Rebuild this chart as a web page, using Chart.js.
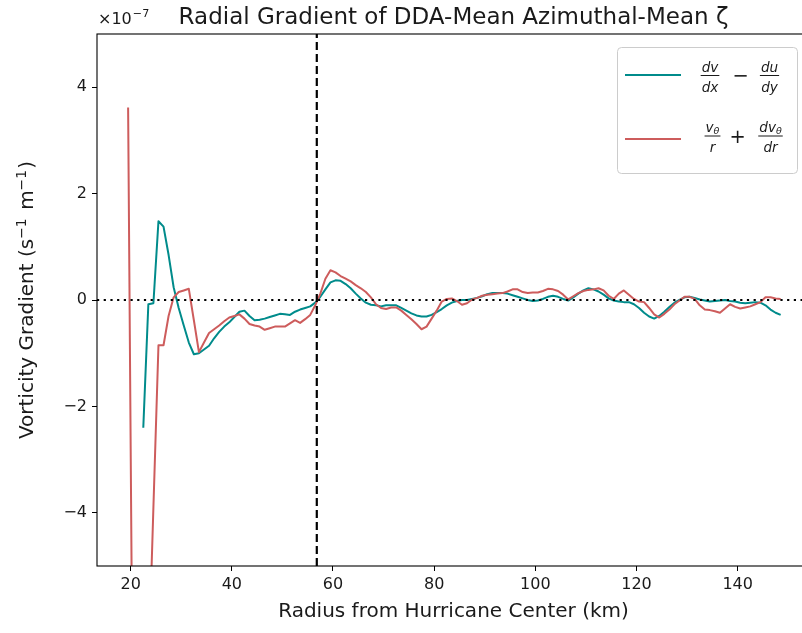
<!DOCTYPE html>
<html lang="en">
<head>
  <meta charset="UTF-8" />
  <title>Radial Gradient of DDA-Mean Azimuthal-Mean ζ</title>
  <script src="https://cdn.jsdelivr.net/npm/chart.js"></script>
  <style>
    html, body { margin: 0; padding: 0; background: #fff; overflow: hidden; }
    #wrap { width: 802px; height: 633px; overflow: hidden; position: relative; }
    canvas { display: block; }
  </style>
</head>
<body>
  <div id="wrap"><canvas id="chart" width="812" height="633"></canvas></div>

  <script>
    // radius from hurricane center (km)
    const radius = [
      19.5, 20.5, 21.5, 22.5, 23.5, 24.5, 25.5, 26.5, 27.5, 28.5,
      29.5, 30.5, 31.5, 32.5, 33.5, 34.5, 35.5, 36.5, 37.5, 38.5,
      39.5, 40.5, 41.5, 42.5, 43.5, 44.5, 45.5, 46.5, 47.5, 48.5,
      49.5, 50.5, 51.5, 52.5, 53.5, 54.5, 55.5, 56.5, 57.5, 58.5,
      59.5, 60.5, 61.5, 62.5, 63.5, 64.5, 65.5, 66.5, 67.5, 68.5,
      69.5, 70.5, 71.5, 72.5, 73.5, 74.5, 75.5, 76.5, 77.5, 78.5,
      79.5, 80.5, 81.5, 82.5, 83.5, 84.5, 85.5, 86.5, 87.5, 88.5,
      89.5, 90.5, 91.5, 92.5, 93.5, 94.5, 95.5, 96.5, 97.5, 98.5,
      99.5, 100.5, 101.5, 102.5, 103.5, 104.5, 105.5, 106.5, 107.5, 108.5,
      109.5, 110.5, 111.5, 112.5, 113.5, 114.5, 115.5, 116.5, 117.5, 118.5,
      119.5, 120.5, 121.5, 122.5, 123.5, 124.5, 125.5, 126.5, 127.5, 128.5,
      129.5, 130.5, 131.5, 132.5, 133.5, 134.5, 135.5, 136.5, 137.5, 138.5,
      139.5, 140.5, 141.5, 142.5, 143.5, 144.5, 145.5, 146.5, 147.5, 148.5
    ];

    // dv/dx - du/dy  (x1e-7 s^-1 m^-1)
    const cartesian = [
      null, null, null, -2.4, -0.08, -0.06, 1.48, 1.38, 0.85, 0.24,
      -0.15, -0.48, -0.8, -1.02, -1.0, -0.93, -0.86, -0.72, -0.6, -0.5,
      -0.42, -0.32, -0.22, -0.2, -0.3, -0.38, -0.37, -0.35, -0.32, -0.29,
      -0.26, -0.27, -0.28, -0.22, -0.18, -0.15, -0.12, -0.05, 0.06, 0.2,
      0.33, 0.37, 0.36, 0.3, 0.22, 0.12, 0.03, -0.05, -0.09, -0.1,
      -0.12, -0.1, -0.1, -0.1, -0.15, -0.2, -0.25, -0.29, -0.31, -0.31,
      -0.28, -0.23, -0.17, -0.1, -0.05, -0.02, 0.0, 0.0, 0.02, 0.04,
      0.07, 0.11, 0.13, 0.13, 0.13, 0.12, 0.09, 0.06, 0.03, 0.0,
      -0.02, -0.01, 0.02, 0.06, 0.08, 0.06, 0.02, -0.01, 0.05, 0.12,
      0.18, 0.22, 0.2, 0.16, 0.1, 0.03, -0.01, -0.03, -0.04, -0.04,
      -0.08, -0.15, -0.24, -0.31, -0.35, -0.3, -0.22, -0.13, -0.05, 0.0,
      0.05, 0.06, 0.04, 0.01, -0.01, -0.03, -0.02, -0.01, 0.0, -0.02,
      -0.03, -0.05, -0.06, -0.05, -0.04, -0.05, -0.1, -0.18, -0.24, -0.28
    ];

    // v_theta/r + dv_theta/dr  (x1e-7 s^-1 m^-1)
    const polar = [
      3.62, -9, -12, -10, -7, -3.9, -0.85, -0.85, -0.3, 0.05,
      0.15, 0.18, 0.21, -0.38, -0.98, -0.8, -0.62, -0.55, -0.48, -0.4,
      -0.33, -0.3, -0.27, -0.35, -0.45, -0.48, -0.5, -0.56, -0.53, -0.5,
      -0.5, -0.5, -0.44, -0.38, -0.43, -0.36, -0.28, -0.1, 0.12, 0.4,
      0.56, 0.52, 0.45, 0.4, 0.35, 0.28, 0.22, 0.15, 0.05, -0.08,
      -0.15, -0.17, -0.14, -0.14, -0.2, -0.28, -0.36, -0.45, -0.55, -0.5,
      -0.35, -0.2, -0.03, 0.02, 0.03, -0.02, -0.09, -0.06, 0.01, 0.04,
      0.08, 0.1, 0.11, 0.12, 0.13, 0.16, 0.2, 0.2, 0.15, 0.13,
      0.14, 0.14, 0.17, 0.21, 0.2, 0.17, 0.1, 0.01, 0.07, 0.13,
      0.17, 0.19, 0.2, 0.22, 0.18, 0.08, 0.02, 0.12, 0.18, 0.1,
      0.02, -0.03, -0.04, -0.15, -0.27, -0.33, -0.26, -0.18, -0.08, -0.01,
      0.06, 0.06, 0.02, -0.1, -0.18, -0.19, -0.21, -0.24, -0.16, -0.08,
      -0.13, -0.16, -0.14, -0.12, -0.08, -0.04, 0.05, 0.05, 0.03, 0.02
    ];

    const rmw = 56.8; // dashed vertical line
    const xTicks = [20, 40, 60, 80, 100, 120, 140];
    const yTicks = [-4, -2, 0, 2, 4];
    const xMin = 13.35, xMax = 154.3;
    const yMin = -5, yMax = 5;

    const TEAL = '#008b8b';
    const RED = '#cd5c5c';
    const INK = '#1a1a1a';
    const FONT = '"DejaVu Sans", sans-serif';
    const TICK_PX = 16;
    const LABEL_PX = 20;

    const toPoints = (ys) => radius.map((r, i) => ({ x: r, y: ys[i] }));

    // draws pieces of text (with optional size / raise) centred on cx
    function drawRun(ctx, parts, cx, baseline, style) {
      let w = 0;
      parts.forEach(p => {
        ctx.font = `${style} ${p.s}px ${FONT}`;
        p.w = ctx.measureText(p.t).width + (p.gap || 0);
        w += p.w;
      });
      let x = cx - w / 2;
      parts.forEach(p => {
        ctx.font = `${style} ${p.s}px ${FONT}`;
        ctx.fillText(p.t, x, baseline + (p.dy || 0));
        x += p.w;
      });
      return w;
    }

    function drawFrac(ctx, cx, barY, num, den) {
      const w1 = drawRun(ctx, num, cx, barY - 4, 'italic');
      const w2 = drawRun(ctx, den, cx, barY + 16, 'italic');
      const w = Math.max(w1, w2);
      ctx.fillRect(cx - w / 2 - 1, barY - 0.5, w + 2, 1);
    }

    const N = 13.6, S = 9.5;

    const decor = {
      id: 'decor',
      afterDraw(chart) {
        const { ctx, chartArea: a } = chart;
        ctx.save();
        // axes frame
        ctx.strokeStyle = '#000';
        ctx.lineWidth = 1.1;
        ctx.strokeRect(a.left, a.top, a.right - a.left, a.bottom - a.top);

        ctx.fillStyle = INK;
        ctx.textBaseline = 'alphabetic';
        ctx.textAlign = 'left';

        // title
        drawRun(ctx, [{ t: 'Radial Gradient of DDA-Mean Azimuthal-Mean ζ', s: 23 }],
          (a.left + a.right) / 2, 24, 'normal');

        // offset text
        ctx.font = `${TICK_PX}px ${FONT}`;
        ctx.fillText('×10', 98, 24);
        const w = ctx.measureText('×10').width;
        ctx.font = `${TICK_PX * 0.7}px ${FONT}`;
        ctx.fillText('−7', 98 + w + 1, 17);

        // y axis label with superscripts
        ctx.save();
        ctx.translate(33, (a.top + a.bottom) / 2);
        ctx.rotate(-Math.PI / 2);
        const L = LABEL_PX, U = LABEL_PX * 0.7, R = -7.5;
        drawRun(ctx, [
          { t: 'Vorticity Gradient (s', s: L },
          { t: '−1', s: U, dy: R, gap: 2 },
          { t: ' m', s: L },
          { t: '−1', s: U, dy: R, gap: 1 },
          { t: ')', s: L }
        ], 0, 0, 'normal');
        ctx.restore();

        // legend
        ctx.beginPath();
        ctx.roundRect(617.5, 47.5, 180, 126, 4);
        ctx.fillStyle = 'rgba(255,255,255,0.8)';
        ctx.fill();
        ctx.strokeStyle = '#cccccc';
        ctx.lineWidth = 1;
        ctx.stroke();

        ctx.lineWidth = 2;
        ctx.strokeStyle = TEAL;
        ctx.beginPath(); ctx.moveTo(625, 75); ctx.lineTo(681, 75); ctx.stroke();
        ctx.strokeStyle = RED;
        ctx.beginPath(); ctx.moveTo(625, 139); ctx.lineTo(681, 139); ctx.stroke();

        ctx.fillStyle = INK;
        drawFrac(ctx, 710, 75.5, [{ t: 'dv', s: N }], [{ t: 'dx', s: N }]);
        drawFrac(ctx, 769.5, 75.5, [{ t: 'du', s: N }], [{ t: 'dy', s: N }]);
        drawFrac(ctx, 712.5, 136, [{ t: 'v', s: N }, { t: 'θ', s: S, dy: 2 }], [{ t: 'r', s: N }]);
        drawFrac(ctx, 770.5, 136, [{ t: 'dv', s: N }, { t: 'θ', s: S, dy: 2 }], [{ t: 'dr', s: N }]);

        drawRun(ctx, [{ t: '−', s: 19.4 }], 740.5, 82, 'normal');
        drawRun(ctx, [{ t: '+', s: 19.4 }], 737.5, 142.5, 'normal');
        ctx.restore();
      }
    };

    const ctx = document.getElementById('chart').getContext('2d');
    new Chart(ctx, {
      type: 'line',
      data: {
        datasets: [
          {
            label: 'rmw',
            data: [{ x: rmw, y: yMin }, { x: rmw, y: yMax }],
            borderColor: '#000',
            borderWidth: 2.2,
            borderDash: [8, 4],
            pointRadius: 0
          },
          {
            label: 'zero',
            data: [{ x: xMin, y: 0 }, { x: xMax, y: 0 }],
            borderColor: '#000',
            borderWidth: 2.2,
            borderDash: [2.2, 4.5],
            pointRadius: 0
          },
          {
            label: 'v/r + dv/dr',
            data: toPoints(polar),
            borderColor: RED,
            borderWidth: 2,
            pointRadius: 0,
            tension: 0,
            borderJoinStyle: 'round'
          },
          {
            label: 'dv/dx - du/dy',
            data: toPoints(cartesian),
            borderColor: TEAL,
            borderWidth: 2,
            pointRadius: 0,
            tension: 0,
            borderJoinStyle: 'round'
          }
        ]
      },
      options: {
        responsive: false,
        animation: false,
        devicePixelRatio: 1,
        layout: { padding: { top: 34, right: 2, left: 0, bottom: 0 } },
        plugins: {
          legend: { display: false },
          tooltip: { enabled: false }
        },
        scales: {
          x: {
            type: 'linear',
            min: xMin,
            max: xMax,
            afterBuildTicks: (s) => { s.ticks = xTicks.map(v => ({ value: v })); },
            afterFit: (s) => { s.height = 67; },
            grid: { drawOnChartArea: false, drawTicks: true, tickLength: 5, color: '#000', tickWidth: 1 },
            border: { display: false },
            ticks: { color: INK, font: { family: 'DejaVu Sans', size: TICK_PX }, padding: 4, maxRotation: 0 },
            title: {
              display: true,
              text: 'Radius from Hurricane Center (km)',
              color: INK,
              font: { family: 'DejaVu Sans', size: LABEL_PX },
              padding: { top: 0, bottom: 9 }
            }
          },
          y: {
            type: 'linear',
            min: yMin,
            max: yMax,
            afterBuildTicks: (s) => { s.ticks = yTicks.map(v => ({ value: v })); },
            afterFit: (s) => { s.width = 97; },
            grid: { drawOnChartArea: false, drawTicks: true, tickLength: 5, color: '#000', tickWidth: 1 },
            border: { display: false },
            ticks: {
              color: INK,
              font: { family: 'DejaVu Sans', size: TICK_PX },
              padding: 5,
              callback: (v) => String(v).replace('-', '\u2212')
            },
            title: { display: false }
          }
        }
      },
      plugins: [decor]
    });
  </script>
</body>
</html>
